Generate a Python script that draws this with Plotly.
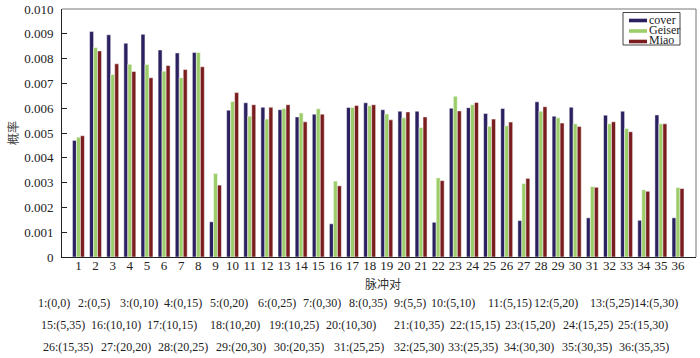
import plotly.graph_objects as go

pairs = ["1:(0,0)", "2:(0,5)", "3:(0,10)", "4:(0,15)", "5:(0,20)", "6:(0,25)", "7:(0,30)",
         "8:(0,35)", "9:(5,5)", "10:(5,10)", "11:(5,15)", "12:(5,20)", "13:(5,25)", "14:(5,30)",
         "15:(5,35)", "16:(10,10)", "17:(10,15)", "18:(10,20)", "19:(10,25)", "20:(10,30)",
         "21:(10,35)", "22:(15,15)", "23:(15,20)", "24:(15,25)", "25:(15,30)",
         "26:(15,35)", "27:(20,20)", "28:(20,25)", "29:(20,30)", "30:(20,35)", "31:(25,25)",
         "32:(25,30)", "33:(25,35)", "34:(30,30)", "35:(30,35)", "36:(35,35)"]
categories = list(range(1, 37))

cover = [4.70, 9.09, 8.96, 8.62, 8.98, 8.35, 8.23, 8.25, 1.42, 5.92,
         6.22, 6.04, 5.94, 5.65, 5.76, 1.34, 6.03, 6.22, 5.94, 5.88,
         5.88, 1.40, 6.00, 6.02, 5.79, 5.99, 1.47, 6.26, 5.68, 6.04,
         1.58, 5.72, 5.88, 1.48, 5.73, 1.58]
geiser = [4.83, 8.45, 7.36, 7.77, 7.76, 7.49, 7.23, 8.25, 3.37, 6.27,
          5.68, 5.56, 5.99, 5.81, 5.98, 3.06, 6.03, 6.10, 5.77, 5.61,
          5.22, 3.19, 6.48, 6.14, 5.27, 5.29, 2.96, 5.88, 5.61, 5.37,
          2.84, 5.37, 5.18, 2.71, 5.37, 2.80]
miao = [4.89, 8.31, 7.79, 7.48, 7.23, 7.72, 7.56, 7.67, 2.90, 6.63,
        6.14, 6.04, 6.14, 5.45, 5.76, 2.87, 6.11, 6.14, 5.53, 5.85,
        5.65, 3.08, 5.89, 6.23, 5.56, 5.44, 3.17, 6.06, 5.40, 5.26,
        2.81, 5.45, 5.05, 2.65, 5.37, 2.76]
scale = 1e-3

series_names = ["cover", "Geiser", "Miao"]
series_colors = ["#2c2160", "#9ccd6a", "#7a1d1e"]

ytick_vals = [0, 0.001, 0.002, 0.003, 0.004, 0.005, 0.006, 0.007, 0.008, 0.009, 0.010]
ytick_text = ["0", "0.001", "0.002", "0.003", "0.004", "0.005", "0.006", "0.007", "0.008", "0.009", "0.010"]

serif = "Times New Roman, Liberation Serif, serif"
cjk = "Noto Sans CJK SC"

W, H = 700, 358
L, R, T, B = 62, 4, 9, 101
PW, PH = W - L - R, H - T - B


def px(x):
    return (x - L) / PW


def py(y):
    return 1 - (y - T) / PH


fig = go.Figure()
for name, vals, col in zip(series_names, [cover, geiser, miao], series_colors):
    fig.add_trace(go.Bar(x=categories, y=[v * scale for v in vals], name=name,
                         marker=dict(color=col, line=dict(color="white", width=0.5))))

fig.update_layout(
    width=W, height=H,
    margin=dict(l=L, r=R, t=T, b=B, autoexpand=False),
    paper_bgcolor="white", plot_bgcolor="white",
    barmode="group", bargap=0.3, bargroupgap=0,
    font=dict(family=serif, size=13, color="#222"),
    showlegend=False,
)
fig.update_xaxes(range=[0.04, 37.05], tickmode="array", tickvals=categories,
                 ticktext=[str(c) for c in categories], showline=True, linecolor="#222",
                 linewidth=1, ticks="", showgrid=False, zeroline=False, automargin=False,
                 ticklabelstandoff=-4,
                 tickfont=dict(family=serif, size=13, color="#222"))
fig.update_yaxes(range=[0, 0.010], tickmode="array", tickvals=ytick_vals, ticktext=ytick_text,
                 showline=True, linecolor="#222", linewidth=1, ticks="inside", ticklen=5,
                 tickcolor="#222", showgrid=False, zeroline=False, automargin=False,
                 ticklabelstandoff=5,
                 tickfont=dict(family=serif, size=13, color="#222"))

# frame top / right
fig.add_shape(type="line", xref="paper", yref="paper", x0=0, x1=1, y0=1, y1=1,
              line=dict(color="#777", width=1))
fig.add_shape(type="line", xref="paper", yref="paper", x0=1, x1=1, y0=0, y1=1,
              line=dict(color="#777", width=1))

# legend (drawn)
fig.add_shape(type="rect", xref="paper", yref="paper", x0=px(623), x1=px(680), y0=py(45), y1=py(12.5),
              line=dict(color="#444", width=1), fillcolor="white")
for i, (name, col) in enumerate(zip(series_names, series_colors)):
    yc = 20.5 + i * 10.5
    fig.add_shape(type="rect", xref="paper", yref="paper", x0=px(629), x1=px(647),
                  y0=py(yc + 1.8), y1=py(yc - 1.8), line=dict(width=0), fillcolor=col)
    fig.add_annotation(text=name, xref="paper", yref="paper", x=px(648), y=py(yc - 1),
                       xanchor="left", yanchor="middle", showarrow=False, borderpad=0,
                       font=dict(family=serif, size=12, color="#222"))

fig.add_annotation(text="概率", textangle=-90, xref="paper", yref="paper",
                   x=px(12), y=py(133), xanchor="center", yanchor="middle", showarrow=False,
                   font=dict(family=cjk, size=12, color="#444"))
fig.add_annotation(text="脉冲对", xref="paper", yref="paper", x=px(383), y=py(283),
                   xanchor="center", yanchor="middle", showarrow=False,
                   font=dict(family=cjk, size=12, color="#333"))

# pair key rows: (first index, last index exclusive, row centre y, item left x)
row_specs = [
    (0, 14, 303, [37, 77, 119, 163, 209, 257, 302, 348, 393, 430, 487, 533, 589, 633]),
    (14, 25, 325, [40, 90, 146, 209, 268, 325, 393, 449, 504, 562, 617]),
    (25, 36, 347, [42, 100, 157, 215, 273, 333, 393, 447, 503, 561, 618]),
]
for a, b, yy, xs in row_specs:
    for lab, xx in zip(pairs[a:b], xs):
        fig.add_annotation(text=lab, xref="paper", yref="paper",
                           x=px(xx), y=py(yy), xanchor="left", yanchor="middle",
                           showarrow=False, borderpad=0,
                           font=dict(family=serif, size=12, color="#222"))

fig.write_html("out.html", config={"displayModeBar": False},
               post_script="document.body.style.margin='0';document.body.style.padding='0';")
